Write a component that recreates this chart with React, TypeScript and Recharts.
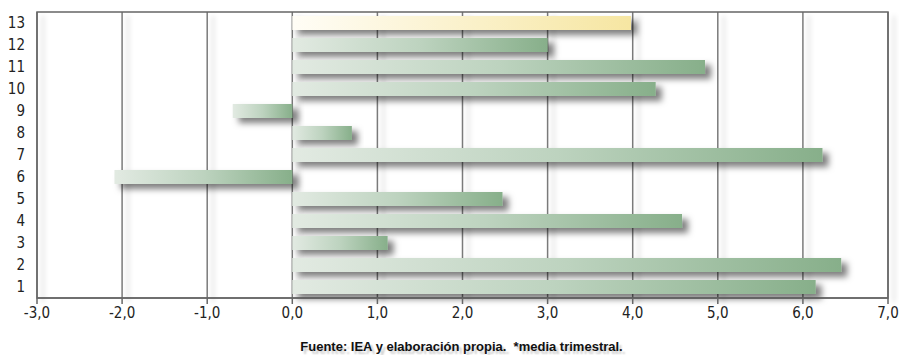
import React from "react";
import { BarChart, Bar, XAxis, YAxis, CartesianGrid, ReferenceArea, Cell } from "recharts";

const categories = ["1", "2", "3", "4", "5", "6", "7", "8", "9", "10", "11", "12", "13"];
const values = [6.15, 6.45, 1.12, 4.58, 2.47, -2.09, 6.23, 0.7, -0.7, 4.27, 4.85, 3.0, 3.98];
const xTicks = [-3, -2, -1, 0, 1, 2, 3, 4, 5, 6, 7];
const highlighted = ["13"];
const footer = "Fuente: IEA y elaboración propia.  *media trimestral.";

const data = categories
  .map((name, i) => ({ name, value: values[i] }))
  .reverse();

const fmt = (v: number) => v.toFixed(1).replace(".", ",");

const FONT = "'DejaVu Sans Condensed', 'DejaVu Sans', sans-serif";

export default function App() {
  return (
    <div style={{ position: "relative", width: 899, height: 355, overflow: "hidden" }}>
      <style>{`
        body { margin: 0; }
        .recharts-cartesian-grid-vertical line { filter: url(#gridShadow); }
        .recharts-cartesian-axis-tick text { filter: drop-shadow(4px 4px 2px rgba(0,0,0,0.25)); }
      `}</style>
      <div style={{ position: "absolute", left: 8, top: 8 }}>
        <BarChart
          width={891}
          height={320}
          data={data}
          layout="vertical"
          margin={{ top: 4, right: 11, bottom: 0, left: 0 }}
          barSize={14}
        >
          <defs>
            <linearGradient id="greenGrad" x1="0" y1="0" x2="1" y2="0">
              <stop offset="0%" stopColor="#e2eae2" />
              <stop offset="50%" stopColor="#bdd3bf" />
              <stop offset="100%" stopColor="#87af8a" />
            </linearGradient>
            <linearGradient id="yellowGrad" x1="0" y1="0" x2="1" y2="0">
              <stop offset="0%" stopColor="#fffdf6" />
              <stop offset="100%" stopColor="#f6e6a2" />
            </linearGradient>
            <filter id="barShadow" x="-10%" y="-50%" width="130%" height="250%">
              <feDropShadow dx="6" dy="5" stdDeviation="3" floodColor="#000" floodOpacity="0.5" />
            </filter>
            <filter id="gridShadow" filterUnits="userSpaceOnUse" x="0" y="0" width="900" height="360">
              <feDropShadow dx="6" dy="4" stdDeviation="2.5" floodColor="#000" floodOpacity="0.2" />
            </filter>
          </defs>
          <CartesianGrid horizontal={false} vertical stroke="#7a7a7a" strokeWidth={1.5} />
          <ReferenceArea x1={-3} x2={7} stroke="#666" strokeWidth={1.5} fill="none" fillOpacity={0} ifOverflow="extendDomain" />
          <XAxis
            type="number"
            domain={[-3, 7]}
            ticks={xTicks}
            tickFormatter={fmt}
            axisLine={{ stroke: "#666", strokeWidth: 1.5 }}
            tickLine={{ stroke: "#666", strokeWidth: 1.5 }}
            tickSize={6}
            tickMargin={3}
            height={30}
            tick={{ fill: "#222", fontSize: 15, fontFamily: FONT }}
            allowDataOverflow
          />
          <YAxis
            type="category"
            dataKey="name"
            width={29}
            axisLine={false}
            tickLine={false}
            tickSize={0}
            tickMargin={12}
            interval={0}
            tick={{ fill: "#222", fontSize: 15, fontFamily: FONT }}
          />
          <Bar dataKey="value" isAnimationActive={false} filter="url(#barShadow)">
            {data.map((d) => (
              <Cell key={d.name} fill={highlighted.includes(d.name) ? "url(#yellowGrad)" : "url(#greenGrad)"} />
            ))}
          </Bar>
        </BarChart>
      </div>
      <div
        style={{
          position: "absolute",
          left: 8,
          top: 339,
          width: 907,
          textAlign: "center",
          fontFamily: "'Liberation Sans Narrow', 'Liberation Sans', sans-serif",
          fontWeight: "bold",
          fontSize: 13,
          lineHeight: "15px",
          color: "#111",
          whiteSpace: "pre",
          textShadow: "3px 3px 2px rgba(0,0,0,0.2)",
        }}
      >
        {footer}
      </div>
    </div>
  );
}
